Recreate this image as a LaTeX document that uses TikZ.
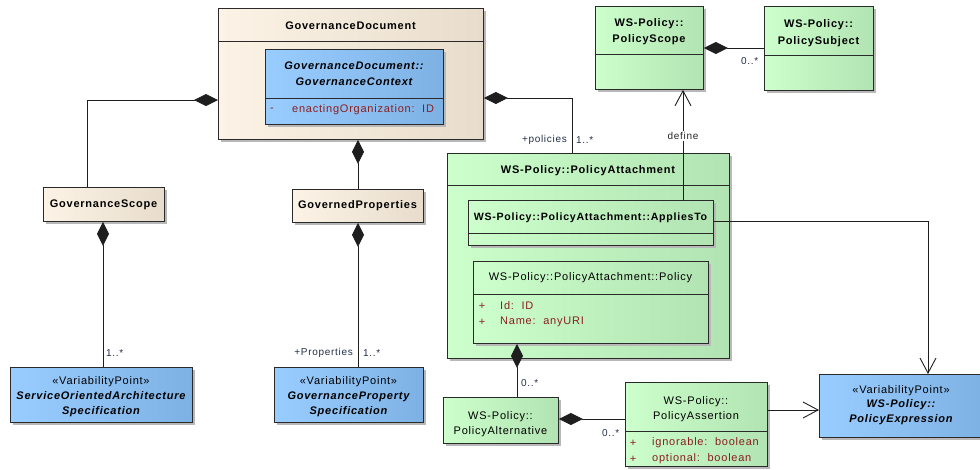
\documentclass[tikz,border=0pt]{standalone}
\usepackage{fontspec}
\setmainfont{Liberation Sans}[LetterSpace=7]
\usetikzlibrary{arrows.meta,shadows}
\definecolor{beigeL}{HTML}{FCF3E6}
\definecolor{beigeR}{HTML}{E8DDCC}
\definecolor{greenL}{HTML}{CCFFCC}
\definecolor{greenR}{HTML}{B2E3B2}
\definecolor{blueL}{HTML}{9ACDFF}
\definecolor{blueR}{HTML}{7DB1E4}
\definecolor{boxline}{HTML}{2A2A2A}
\definecolor{shadowc}{HTML}{B8B8B8}
\definecolor{attrred}{HTML}{8B1E1E}
\definecolor{labc}{HTML}{22304A}
\definecolor{linec}{HTML}{1E1E1E}
\begin{document}
\begin{tikzpicture}[x=1pt,y=-1pt,
  box/.style={draw=boxline,line width=0.9pt,rectangle,inner sep=0pt,anchor=north west,
     drop shadow={shadow xshift=3pt,shadow yshift=-3pt,fill=shadowc,opacity=1}},
  beigefill/.style={left color=beigeL,right color=beigeR},
  greenfill/.style={left color=greenL,right color=greenR},
  bluefill/.style={left color=blueL,right color=blueR},
  sepline/.style={draw=boxline,line width=0.9pt},
  txt/.style={inner sep=0pt,font=\fontsize{11}{15}\selectfont,text=black,align=center},
  btxt/.style={inner sep=0pt,font=\fontsize{11}{15}\selectfont\bfseries,text=black,align=center},
  bitxt/.style={inner sep=0pt,font=\fontsize{11}{15}\selectfont\bfseries\itshape,text=black,align=center},
  attr/.style={inner sep=0pt,font=\fontsize{11}{15}\selectfont,text=attrred},
  lab/.style={inner sep=0pt,font=\fontsize{10}{12}\selectfont,text=labc},
  comp/.style={draw=linec,line width=0.9pt,{Diamond[length=24pt,width=12pt]}-},
  dep/.style={draw=linec,line width=0.9pt,-{Straight Barb[length=15pt,width=16pt]}}
]
\useasboundingbox (0,0) rectangle (980,469);
\fill[white] (0,0) rectangle (980,469);

% ---------- Governance side ----------
\node[box,beigefill,minimum width=265pt,minimum height=131pt] (gd) at (218,8) {};
\draw[sepline] (gd.west |- 0,41) -- (gd.east |- 0,41);
\node[btxt] (tgd) at (350.5,26) {GovernanceDocument};

\node[box,bluefill,minimum width=178pt,minimum height=75pt] (gc) at (265,49) {};
\draw[sepline] (gc.west |- 0,98) -- (gc.east |- 0,98);
\node[bitxt,font=\fontsize{11}{16}\selectfont\bfseries\itshape] (tgc) at (354,74) {GovernanceDocument::\\GovernanceContext};
\node[attr] (gcm) at (272,110) {-};
\node[attr,anchor=west] (gca) at (292,110) {enactingOrganization:\ \ ID};

\node[box,beigefill,minimum width=121pt,minimum height=34pt] (gs) at (43,187) {};
\node[btxt] (tgs) at (103.5,205) {GovernanceScope};

\node[box,beigefill,minimum width=131pt,minimum height=33pt] (gp) at (292,189) {};
\node[btxt] (tgp) at (357.5,206) {GovernedProperties};

\node[box,bluefill,minimum width=182pt,minimum height=55pt] (soa) at (10,367) {};
\node[txt] (soas) at (101,382) {«VariabilityPoint»};
\node[bitxt] (soat) at (101,404) {ServiceOrientedArchitecture\\Specification};

\node[box,bluefill,minimum width=149pt,minimum height=55pt] (gps) at (274,367) {};
\node[txt] (gpss) at (348.5,382) {«VariabilityPoint»};
\node[bitxt] (gpst) at (348.5,404) {GovernanceProperty\\Specification};

% ---------- WS-Policy side ----------
\node[box,greenfill,minimum width=108pt,minimum height=83pt] (ps) at (595,6) {};
\draw[sepline] (ps.west |- 0,54) -- (ps.east |- 0,54);
\node[btxt,font=\fontsize{11}{16}\selectfont\bfseries] (tps) at (649,32) {WS-Policy::\\PolicyScope};

\node[box,greenfill,minimum width=109pt,minimum height=84pt] (psub) at (764,6) {};
\draw[sepline] (psub.west |- 0,55) -- (psub.east |- 0,55);
\node[btxt,font=\fontsize{11}{17}\selectfont\bfseries] (tpsub) at (818.5,33) {WS-Policy::\\PolicySubject};

\node[box,greenfill,minimum width=282pt,minimum height=205pt] (pa) at (447,153) {};
\draw[sepline] (pa.west |- 0,185) -- (pa.east |- 0,185);
\node[btxt] (tpa) at (588,171) {WS-Policy::PolicyAttachment};

\node[box,greenfill,minimum width=245pt,minimum height=45pt] (at) at (468,200) {};
\draw[sepline] (at.west |- 0,233) -- (at.east |- 0,233);
\node[btxt,font=\fontsize{10.6}{15}\selectfont\bfseries] (tat) at (590.5,218) {WS-Policy::PolicyAttachment::AppliesTo};

\node[box,greenfill,minimum width=235pt,minimum height=82pt] (pol) at (473,261) {};
\draw[sepline] (pol.west |- 0,294) -- (pol.east |- 0,294);
\node[txt] (tpol) at (590.5,278) {WS-Policy::PolicyAttachment::Policy};
\node[attr] (pp1) at (482,306) {+};
\node[attr,anchor=west] (pa1) at (500,306) {Id:\ \ ID};
\node[attr] (pp2) at (482,322) {+};
\node[attr,anchor=west] (pa2) at (500,322) {Name:\ \ anyURI};

\node[box,greenfill,minimum width=115pt,minimum height=46pt] (palt) at (443,397) {};
\node[txt] (tpalt) at (500.5,424) {WS-Policy::\\PolicyAlternative};

\node[box,greenfill,minimum width=142pt,minimum height=84pt] (pas) at (625,382) {};
\draw[sepline] (pas.west |- 0,431) -- (pas.east |- 0,431);
\node[txt] (tpas) at (696,409.5) {WS-Policy::\\PolicyAssertion};
\node[attr] (sp1) at (633,443) {+};
\node[attr,anchor=west] (sa1) at (652,443) {ignorable:\ \ boolean};
\node[attr] (sp2) at (633,459) {+};
\node[attr,anchor=west] (sa2) at (652,459) {optional:\ \ boolean};

\node[box,bluefill,minimum width=165pt,minimum height=63pt] (pe) at (819,374) {};
\node[txt] (pes) at (901,391) {«VariabilityPoint»};
\node[bitxt] (pet) at (901,412.5) {WS-Policy::\\PolicyExpression};

% ---------- connectors ----------
\draw[comp] (gd.west |- 0,100) -| (gs.north -| 87,0);
\draw[comp] (gd.south -| 358,0) -- (gp.north -| 358,0);
\draw[comp] (gs.south -| 103,0) -- (soa.north -| 103,0);
\node[lab,anchor=west] (m1) at (106,353) {1..*};
\draw[comp] (gp.south -| 358,0) -- (gps.north -| 358,0);
\node[lab,anchor=east] (r2) at (353,353) {+Properties};
\node[lab,anchor=west] (m2) at (363,353) {1..*};
\draw[comp] (gd.east |- 0,98) -| (pa.north -| 572,0);
\node[lab,anchor=east] (r3) at (567,140) {+policies};
\node[lab,anchor=west] (m3) at (576,140) {1..*};
\draw[comp] (ps.east |- 0,48) -- (psub.west |- 0,48);
\node[lab,anchor=west] (m4) at (741,61) {0..*};
\draw[dep] (at.north -| 683,0) -- (ps.south -| 683,0);
\node[inner sep=1pt,fill=white,font=\fontsize{10}{12}\selectfont,text=black!85] (def) at (683,136) {define};
\draw[dep] (at.east |- 0,221) -| (pe.north -| 928,0);
\draw[comp] (pol.south -| 517,0) -- (palt.north -| 517,0);
\node[lab,anchor=west] (m5) at (521,383) {0..*};
\draw[comp] (palt.east |- 0,419) -- (pas.west |- 0,419);
\node[lab,anchor=west] (m6) at (602,433) {0..*};
\draw[dep] (pas.east |- 0,410) -- (pe.west |- 0,410);
\end{tikzpicture}
\end{document}
